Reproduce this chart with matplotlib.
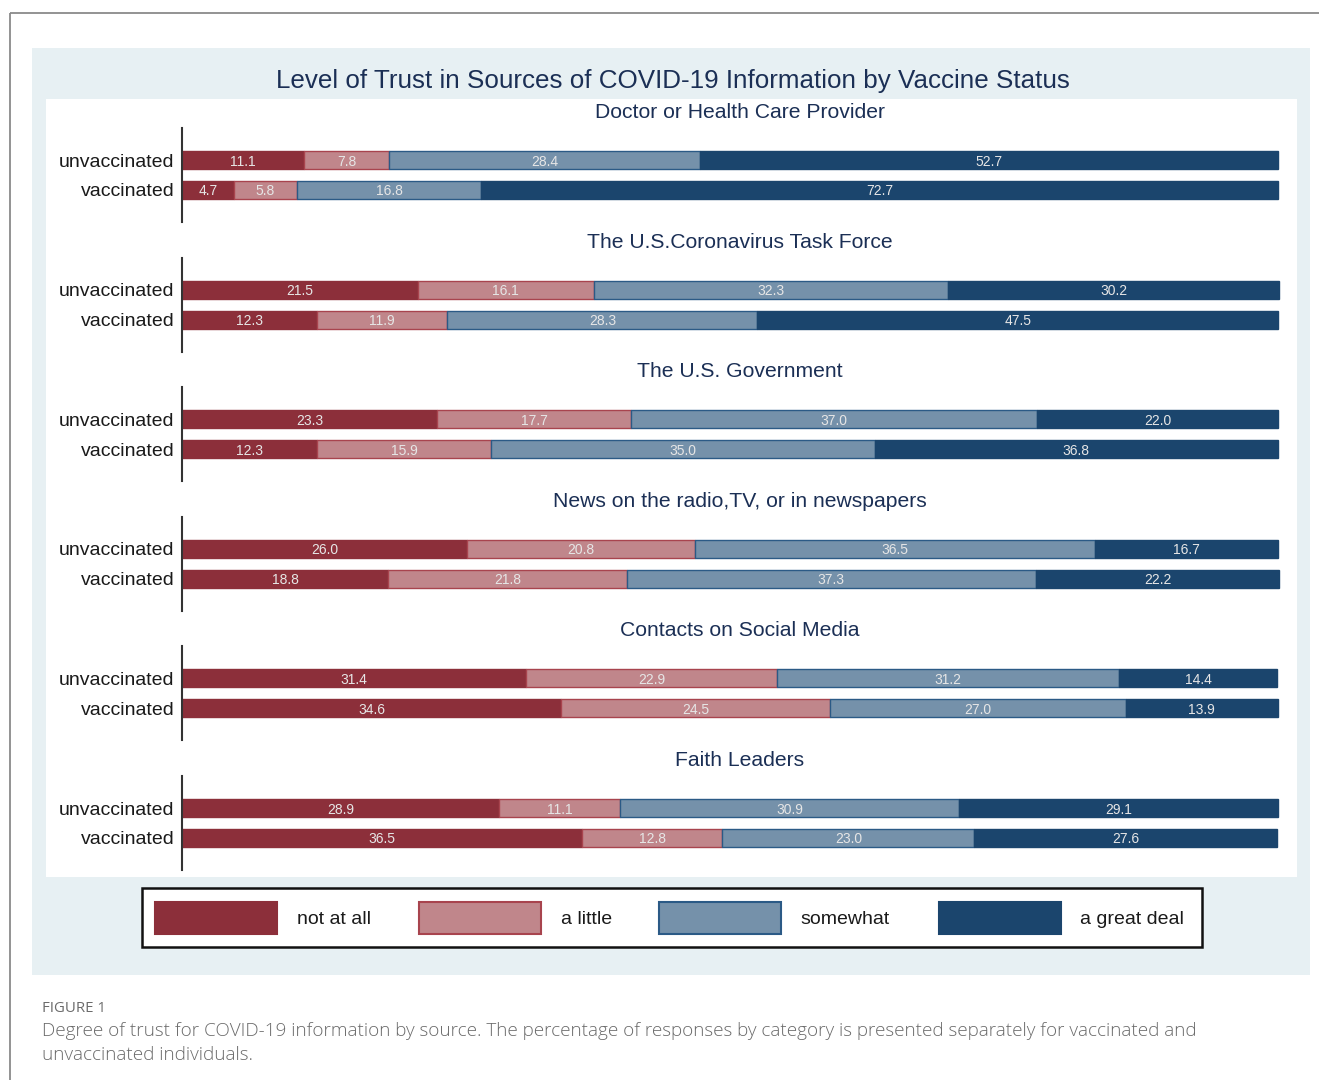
import matplotlib
matplotlib.use("Agg")
import matplotlib.pyplot as plt
from matplotlib.patches import Rectangle

plt.rcParams['font.family'] = ['Liberation Sans', 'DejaVu Sans']

# ---------------- data ----------------
sources = [
    "Doctor or Health Care Provider",
    "The U.S.Coronavirus Task Force",
    "The U.S. Government",
    "News on the radio,TV, or in newspapers",
    "Contacts on Social Media",
    "Faith Leaders",
]
groups = ["unvaccinated", "vaccinated"]
categories = ["not at all", "a little", "somewhat", "a great deal"]

unvaccinated = [
    [11.1, 7.8, 28.4, 52.7],
    [21.5, 16.1, 32.3, 30.2],
    [23.3, 17.7, 37.0, 22.0],
    [26.0, 20.8, 36.5, 16.7],
    [31.4, 22.9, 31.2, 14.4],
    [28.9, 11.1, 30.9, 29.1],
]
vaccinated = [
    [4.7, 5.8, 16.8, 72.7],
    [12.3, 11.9, 28.3, 47.5],
    [12.3, 15.9, 35.0, 36.8],
    [18.8, 21.8, 37.3, 22.2],
    [34.6, 24.5, 27.0, 13.9],
    [36.5, 12.8, 23.0, 27.6],
]

title = "Level of Trust in Sources of COVID-19 Information by Vaccine Status"
caption_head = "FIGURE 1"
caption_lines = [
    "Degree of trust for COVID-19 information by source. The percentage of responses by category is presented separately for vaccinated and",
    "unvaccinated individuals.",
]

# ---------------- style ----------------
fills = ["#8c2f3a", "#c0868b", "#7591aa", "#1b456d"]
edges = ["#8c2f3a", "#a8444e", "#2b5a86", "#1b456d"]
navy = "#1b2f55"

W, H = 1319, 1080
fig = plt.figure(figsize=(W / 100, H / 100), dpi=100)
fig.patch.set_facecolor("white")

bg = fig.add_axes([0, 0, 1, 1])
bg.set_xlim(0, W)
bg.set_ylim(H, 0)
bg.axis("off")
bg.set_zorder(-1)

# outer card border
bg.add_patch(Rectangle((10, 13), 1400, 1200, fill=False, edgecolor="#8a8a8a", lw=1.3))
# light blue panel
bg.add_patch(Rectangle((32, 48), 1278, 927, facecolor="#e7f0f3", edgecolor="none"))
# white plotting region
bg.add_patch(Rectangle((46, 99), 1251, 778, facecolor="white", edgecolor="none"))

bg.text(673, 81, title, ha="center", va="center", fontsize=18.7, color=navy)

# ---------------- panels ----------------
step = 129.6
x0, x1 = 182, 1278
for i, src in enumerate(sources):
    off = i * step
    top, bot = 128 + off, 222 + off
    ax = fig.add_axes([x0 / W, 1 - bot / H, (x1 - x0) / W, (bot - top) / H])
    ax.patch.set_alpha(0)
    ax.set_xlim(0, 100)
    ax.set_ylim(-1.067, 2.067)
    for s in ["top", "right", "bottom"]:
        ax.spines[s].set_visible(False)
    ax.spines["left"].set_color("#333333")
    ax.spines["left"].set_linewidth(1.5)
    ax.set_xticks([])
    ax.set_yticks([1, 0])
    ax.set_yticklabels(groups, fontsize=14, color="#1a1a1a")
    ax.tick_params(axis="y", length=0, pad=5.5)

    for yv, vals in [(1, unvaccinated[i]), (0, vaccinated[i])]:
        left = 0.0
        for k, v in enumerate(vals):
            ax.barh(yv, v, left=left, height=0.6, color=fills[k],
                    edgecolor=edges[k], linewidth=1.0, clip_on=False)
            ax.text(left + v / 2, yv, f"{v:.1f}", ha="center", va="center_baseline",
                    fontsize=10, color="#e6e6e6")
            left += v

    bg.text(740, 112.5 + off, src, ha="center", va="center", fontsize=15.2, color=navy)

# ---------------- legend ----------------
bg.add_patch(Rectangle((142, 888), 1060, 59, facecolor="white", edgecolor="#111111", lw=1.8))
patch_x = [155, 419, 659, 939]
label_x = [297, 561, 800, 1080]
for k, cat in enumerate(categories):
    bg.add_patch(Rectangle((patch_x[k], 902), 122, 32, facecolor=fills[k],
                           edgecolor=edges[k], lw=1.5))
    bg.text(label_x[k], 919, cat, ha="left", va="center", fontsize=14, color="#1a1a1a")

# ---------------- caption ----------------
bg.text(42, 1008, caption_head, ha="left", va="center", fontsize=10.8,
        color="#6b6b6b", family=["Open Sans", "DejaVu Sans"])
for j, line in enumerate(caption_lines):
    bg.text(42, 1031 + j * 24, line, ha="left", va="center", fontsize=13.6,
            color="#6a6a6a", fontweight="light", family=["Open Sans", "DejaVu Sans"])

fig.savefig("out.png", dpi=100, facecolor="white")
